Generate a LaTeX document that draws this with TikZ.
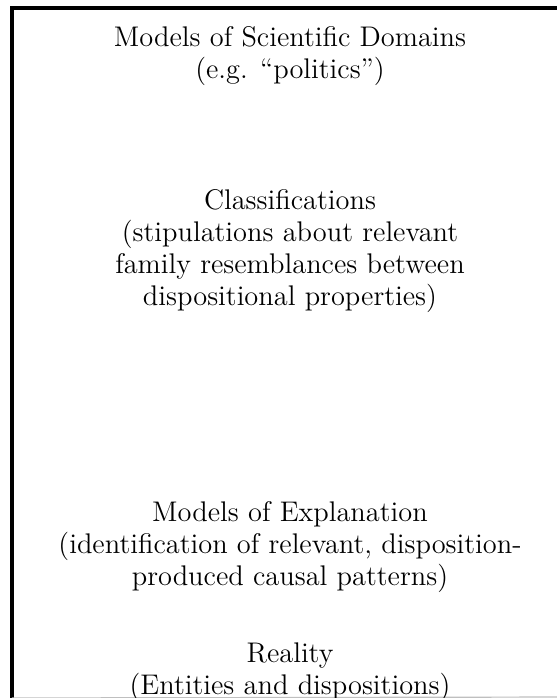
\documentclass[tikz,border=0pt]{standalone}
\usepackage{tikz}
\usetikzlibrary{positioning}

\begin{document}
\begin{tikzpicture}[x=0.5pt, y=-0.5pt,
	level/.style={align=center, font=\fontsize{14.2}{16}\selectfont, inner sep=0pt}]
	% Frame:
	\useasboundingbox (0, 0) rectangle (557, 698);
	\coordinate (C1) at (12, 8);
	\coordinate (C2) at (570, 8);
	\coordinate (C3) at (12, 698);
	\coordinate (C4) at (570, 697);
	\draw[line width=2pt] ([xshift=-1pt]C1) -- (C2);
	\draw[line width=2pt] ([yshift=1pt]C1) -- (C3);
	\draw[gray!50, line width=0.6pt] (C3) -- (C4);
	% Levels:
	\node[level](N1) at (290, 56.5){Models of Scientific Domains\\(e.g. ``politics'')};
	\node[level](N2) at (290, 251.5){Classifications\\(stipulations about relevant\\family resemblances between\\dispositional properties)};
	\node[level](N3) at (290, 547.5){Models of Explanation\\(identification of relevant, disposition-\\produced causal patterns)};
	\node[level](N4) at (290, 672){Reality\\(Entities and dispositions)};
\end{tikzpicture}
\end{document}
